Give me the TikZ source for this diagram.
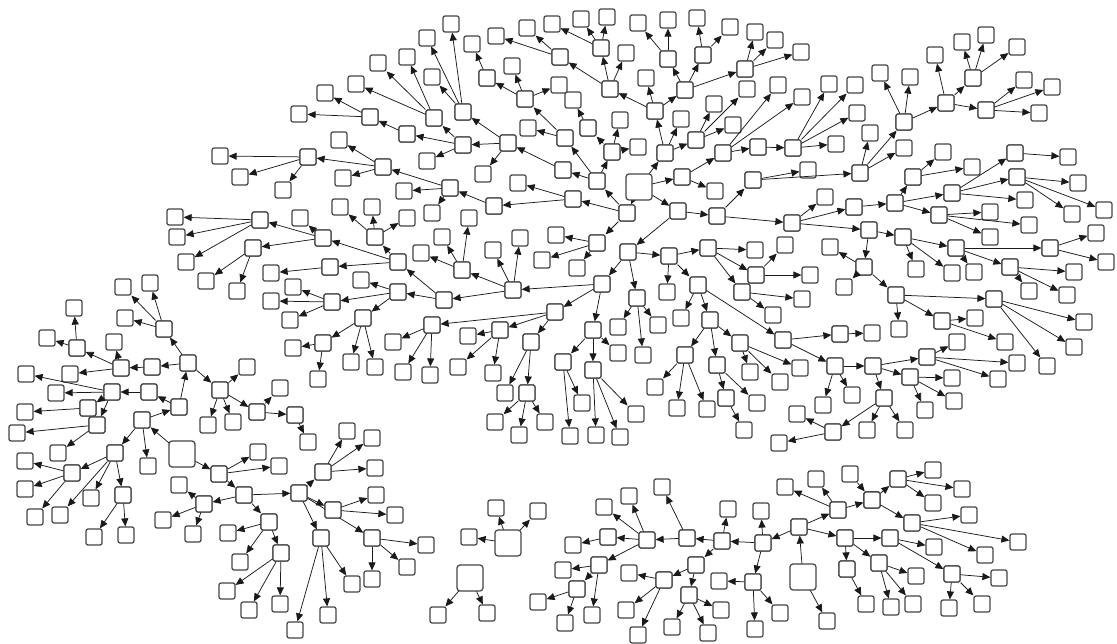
\documentclass[tikz,border=0pt]{standalone}
\usetikzlibrary{arrows.meta}
\definecolor{boxgray}{HTML}{444444}
\definecolor{edgegray}{HTML}{1A1A1A}
\begin{document}
\begin{tikzpicture}[
    x=1pt, y=-1pt,
    box/.style={draw=boxgray, fill=white, line width=1.2pt, rounded corners=2pt, minimum size=16pt, inner sep=0pt},
    bigbox/.style={box, minimum size=26pt, rounded corners=3pt},
    arr/.style={-{Triangle[length=8pt,width=7pt]}, line width=0.75pt, color=edgegray},
]
\useasboundingbox (0,0) rectangle (1117,644);

% parent / children, pixel positions
\foreach \px/\py/\kids in {
  639/187/{682/177,678/211,665/153,627/213},
  627/213/{597/181,573/199,597/243},
  597/181/{612/152,563/170,565/138},
  612/152/{588/128,620/120,638/147},
  588/128/{573/100},
  565/138/{525/99,528/128},
  525/99/{487/78,512/66,559/85},
  487/78/{472/44},
  563/170/{508/143},
  508/143/{463/145,463/112,483/174},
  463/145/{434/118,407/134,427/161},
  463/112/{451/24,427/38,432/77},
  434/118/{407/57,378/63,356/84},
  407/134/{370/117},
  370/117/{325/93,299/114},
  573/199/{494/206,518/183},
  494/206/{450/188},
  450/188/{383/167,404/191,432/213},
  383/167/{308/157,339/140,343/178},
  308/157/{220/156,240/177,283/190},
  665/153/{655/111,681/119,696/140},
  655/111/{610/89,646/78,685/90},
  610/89/{560/57,601/48,626/53},
  560/57/{527/28,496/36},
  601/48/{581/19,607/17,552/24},
  685/90/{668/59,703/55,745/69},
  668/59/{638/23,668/20},
  703/55/{697/18,730/27},
  745/69/{755/32,775/40,801/52},
  696/140/{714/104,733/125,747/89},
  682/177/{723/153,715/191},
  723/153/{778/85,802/97,758/147},
  758/147/{793/148},
  793/148/{829/84,855/85,857/113,836/144},
  678/211/{628/252,717/216},
  717/216/{753/180,792/223},
  753/180/{808/170,860/173},
  860/173/{904/122,870/133,904/148},
  904/122/{880/73,910/77,946/103},
  946/103/{935/55,973/78,986/110},
  973/78/{962/42,986/35,1017/47},
  986/110/{1024/80,1052/87,1039/113},
  792/223/{825/197,854/207,869/230},
  854/207/{895/203},
  895/203/{913/177,952/193,939/215},
  913/177/{943/152,972/167},
  952/193/{1015/153,1017/177,1025/200},
  1015/153/{1068/157},
  1017/177/{1078/183,1072/214,1104/210},
  939/215/{990/212,1029/225,990/237},
  869/230/{903/237,864/267},
  903/237/{956/248,916/269,952/273},
  956/248/{1050/248,974/272,1010/267},
  1050/248/{1096/233,1106/262},
  1010/267/{1074/272,1067/295,1029/291},
  864/267/{896/295,844/287,830/247},
  896/295/{994/299,899/329,942/321},
  942/321/{975/318,1005/342},
  994/299/{1084/322,1074/347,1047/366},
  628/252/{669/256,602/284,637/298},
  669/256/{708/248,667/292,698/285},
  708/248/{755/250,756/275,742/292},
  756/275/{785/245,810/275},
  742/292/{802/299,773/315},
  698/285/{681/318,710/320,783/340},
  710/320/{685/355,717/365,740/343},
  740/343/{750/372,800/368,780/382},
  783/340/{840/334,835/366},
  840/334/{872/333},
  835/366/{873/366,852/395,823/405},
  873/366/{927/357,910/377,884/398},
  927/357/{957/342,1017/363,998/379},
  910/377/{952/378,954/401,925/410},
  884/398/{867/430,905/430,833/432},
  833/432/{797/414,779/443},
  685/355/{655/387,677/408,707/409},
  717/365/{726/398,757/403},
  726/398/{744/430},
  637/298/{618/327,658/325,643/355},
  602/284/{593/330,555/312,513/290},
  593/330/{563/362,593/370,618/353},
  563/362/{582/403,570/436},
  593/370/{596/435,620/437,636/414},
  597/243/{556/235,542/260,577/268},
  513/290/{462/270,493/250,444/300,520/238},
  462/270/{421/253,442/237,469/218},
  444/300/{398/292,398/262},
  398/262/{323/238,375/237,330/267},
  330/267/{271/273},
  375/237/{407/218,372/207,340/207},
  323/238/{300/218,260/220,253/248},
  260/220/{175/217,177/237,186/262},
  253/248/{206/281,237/291},
  398/292/{361/280,332/302,363/318},
  332/302/{293/287,290/320,271/301},
  363/318/{323/343,351/362,375/367},
  323/343/{293/348,318/379},
  555/312/{432/325,500/330,531/342},
  432/325/{393/342,403/372,430/375},
  500/330/{468/336,458/367,493/373},
  531/342/{505/393,527/393},
  527/393/{495/422,519/435,545/422},
  182/454/{219/474,142/420},
  142/420/{148/466,115/453,179/407},
  179/407/{149/392,188/363},
  188/363/{164/329,152/367,220/390},
  164/329/{123/287,150/283,125/318},
  152/367/{121/368},
  121/368/{77/348,114/342,70/374},
  77/348/{74/308,47/338},
  149/392/{112/392},
  112/392/{26/374,56/393,88/408,97/425},
  88/408/{25/412},
  97/425/{58/453,17/433},
  220/390/{247/367,257/412,233/422,208/425},
  257/412/{280/388,295/415},
  295/415/{308/442},
  115/453/{72/473,91/498,60/515,123/495},
  72/473/{25/461,25/489,35/517},
  123/495/{94/537,126/535},
  219/474/{258/452,279/466,244/495},
  244/495/{204/504,269/522,299/493},
  204/504/{179/485,163/520,193/534},
  269/522/{228/533,240/562,281/553},
  281/553/{227/591,249/610,280/604},
  299/493/{323/472,333/510,321/538,372/538},
  323/472/{347/431,372/438,375/468},
  333/510/{376/495,395/515},
  372/538/{426/545,372/579,407/567},
  321/538/{352/584,328/615,295/630},
  508/543/{496/508,538/511,469/537},
  470/578/{438/615,487/613},
  803/577/{799/527,827/621},
  799/527/{763/543,838/510,845/538},
  838/510/{785/487,816/479,872/500},
  850/474/{872/500},
  872/500/{898/479,912/523},
  898/479/{933/470,962/489,933/503},
  912/523/{969/515,1018/542,985/555},
  845/538/{890/538,847/569,879/563},
  890/538/{934/547,952/574},
  879/563/{916/576,891/607,913/604},
  847/569/{866/604},
  952/574/{999/578,949/608,982/604},
  763/543/{722/541,761/511,753/582},
  722/541/{728/509,687/538,696/565},
  687/538/{647/540,662/487},
  647/540/{608/537,629/496,604/507,599/565},
  608/537/{573/545},
  599/565/{563/570,592/615,577/589},
  577/589/{538/602,565/623},
  696/565/{664/580,689/595},
  664/580/{629/573,626/610,638/635},
  689/595/{672/627,708/633,721/610},
  753/582/{719/581,755/629,780/613}%
}{
  \node[box] (v\px-\py) at (\px,\py) {};
  \foreach \cx/\cy in \kids {
    \node[box] (v\cx-\cy) at (\cx,\cy) {};
    \draw[arr] (v\px-\py) -- (v\cx-\cy);
  }
}

% the larger roots
\foreach \rx/\ry in {639/187, 182/454, 508/543, 470/578, 803/577}
  \node[bigbox] (r\rx-\ry) at (\rx,\ry) {};
\end{tikzpicture}
\end{document}
